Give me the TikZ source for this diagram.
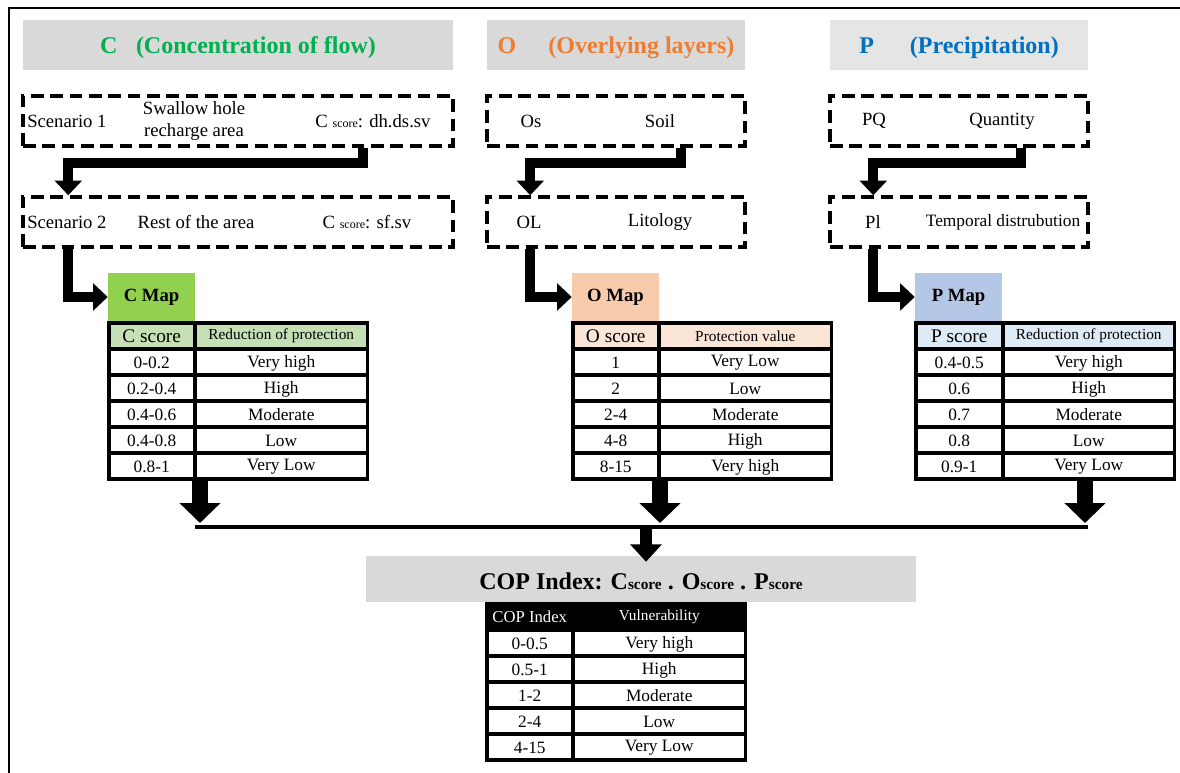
\documentclass[tikz,border=0pt]{standalone}
\usepackage{fontspec}
\setmainfont{Liberation Serif}
\usetikzlibrary{arrows.meta,calc,fit}
\definecolor{hgray}{HTML}{D9D9D9}
\definecolor{hgrayl}{HTML}{E5E5E5}
\definecolor{cgreen}{HTML}{00B050}
\definecolor{corange}{HTML}{ED7D31}
\definecolor{cblue}{HTML}{0070C0}
\definecolor{cmapc}{HTML}{92D050}
\definecolor{chead}{HTML}{C5E0B4}
\definecolor{omapc}{HTML}{F8CBAD}
\definecolor{ohead}{HTML}{FBE5D6}
\definecolor{pmapc}{HTML}{B4C7E7}
\definecolor{phead}{HTML}{DEEBF7}

% #1 name, #2 x0, #3 x1 (divider), #4 x2, #5 y0, #6 header fill, #7 h1, #8 h2, #9 rows
\newcommand\mytab[9]{%
  \node[fit={(#2,#5) (#4,#5+160)}, inner sep=0pt, fill=black] (#1) {};
  \fill[#6] (#2+3.5,#5+3.5) rectangle (#3-2,#5+26);
  \fill[#6] (#3+2,#5+3.5) rectangle (#4-3.5,#5+26);
  \node[tcell] (#1-h1) at ({(#2+3.5+#3-2)/2},#5+15) {#7};
  \node[tcell] (#1-h2) at ({(#3+2+#4-3.5)/2},#5+15) {#8};
  \foreach \a/\b [count=\i] in {#9}{%
    \fill[white] (#2+3.5,#5+26*\i+4) rectangle (#3-2,#5+26+26*\i);
    \fill[white] (#3+2,#5+26*\i+4) rectangle (#4-3.5,#5+26+26*\i);
    \node[tcell] (#1-\i-a) at ({(#2+3.5+#3-2)/2},#5+16+26*\i) {\a};
    \node[tcell] (#1-\i-b) at ({(#3+2+#4-3.5)/2},#5+16+26*\i) {\b};
  }%
}

\begin{document}
\begin{tikzpicture}[x=0.75pt,y=-0.75pt,
  hdr/.style={inner sep=0pt, yshift=-2pt, font=\bfseries\fontsize{18}{21}\selectfont},
  dbox/.style={draw, line width=2.6pt, dash pattern=on 9.5pt off 5pt, inner sep=0pt},
  dtext/.style={inner sep=0pt, font=\fontsize{14}{17}\selectfont, align=center},
  mapbox/.style={inner sep=0pt},
  maptext/.style={inner sep=0pt, font=\bfseries\fontsize{14}{16}\selectfont},
  tcell/.style={inner sep=0pt, font=\fontsize{13}{15}\selectfont},
  elbow/.style={line width=7.5pt, line join=miter, -{Triangle[width=20pt,length=11pt]}},
  bigdown/.style={line width=12pt, -{Triangle[width=30pt,length=15pt]}},
  bigdowns/.style={line width=8.5pt, -{Triangle[width=23pt,length=13pt]}},
  mergeline/.style={line width=3pt},
  frame/.style={line width=1.5pt}
]
\useasboundingbox (0,0) rectangle (1180,773);
\fill[white] (0,0) rectangle (1180,773);
\draw[frame] (9,773) -- (9,8) -- (1180,8);

% headers
\node[fit={(23,20) (453,70)}, inner sep=0pt, fill=hgray] (hc) {};
\node[fit={(487,20) (745,70)}, inner sep=0pt, fill=hgray] (ho) {};
\node[fit={(830,20) (1088,70)}, inner sep=0pt, fill=hgrayl] (hp) {};
\node[hdr, text=cgreen] (hct) at (hc.center) {C\hspace{14pt}(Concentration of flow)};
\node[hdr, text=corange] (hot) at (ho.center) {O\hspace{24pt}(Overlying layers)};
\node[hdr, text=cblue] (hpt) at (hp.center) {P\hspace{27pt}(Precipitation)};

% dashed boxes
\node[dbox, fit={(23,96) (453,146)}] (c1) {};
\node[dbox, fit={(23,197) (453,247)}] (c2) {};
\node[dbox, fit={(487,96) (745,146)}] (o1) {};
\node[dbox, fit={(487,197) (745,247)}] (o2) {};
\node[dbox, fit={(830,96) (1088,146)}] (p1) {};
\node[dbox, fit={(830,197) (1088,247)}] (p2) {};

\node[dtext, anchor=west] (c1a) at (27,121) {Scenario 1};
\node[dtext] (c1b) at (194,121) {Swallow hole\\recharge area};
\node[dtext] (c1c) at (373,121) {C {\fontsize{9}{10}\selectfont score}: dh.ds.sv};
\node[dtext, anchor=west] (c2a) at (27,222) {Scenario 2};
\node[dtext] (c2b) at (196,222) {Rest of the area};
\node[dtext] (c2c) at (367,222) {C {\fontsize{9}{10}\selectfont score}: sf.sv};

\node[dtext] (o1a) at (531,121) {Os};
\node[dtext] (o1b) at (660,121) {Soil};
\node[dtext] (o2a) at (529,222) {OL};
\node[dtext] (o2b) at (660,222) {Litology};

\node[dtext] (p1a) at (874,121) {PQ};
\node[dtext] (p1b) at (1002,121) {Quantity};
\node[dtext] (p2a) at (873,222) {Pl};
\node[dtext, font=\fontsize{13}{15}\selectfont] (p2b) at (1003,222) {Temporal distrubution};

% elbow arrows
\draw[elbow] ($(c1.south west)+(342,0)$) |- ($(c2.north west)+(47,-32)$) -- ($(c2.north west)+(47,0)$);
\draw[elbow] ($(o1.south west)+(196,0)$) |- ($(o2.north west)+(45,-32)$) -- ($(o2.north west)+(45,0)$);
\draw[elbow] ($(p1.south west)+(193,0)$) |- ($(p2.north west)+(45,-32)$) -- ($(p2.north west)+(45,0)$);

% maps
\node[mapbox, fill=cmapc, fit={(108,273) (195,321)}] (cmap) {};
\node[mapbox, fill=omapc, fit={(572,273) (659,321)}] (omap) {};
\node[mapbox, fill=pmapc, fit={(915,273) (1002,321)}] (pmap) {};
\node[maptext] (cmapt) at (cmap.center) {C Map};
\node[maptext] (omapt) at (omap.center) {O Map};
\node[maptext] (pmapt) at (pmap.center) {P Map};

\draw[elbow] ($(c2.south west)+(47,0)$) |- (cmap.west);
\draw[elbow] ($(o2.south west)+(45,0)$) |- (omap.west);
\draw[elbow] ($(p2.south west)+(45,0)$) |- (pmap.west);

% tables
\mytab{ctab}{107}{195}{369}{321}{chead}{{\fontsize{14.5}{16}\selectfont C score}}{{\fontsize{11.5}{13}\selectfont Reduction of protection}}{0-0.2/Very high, 0.2-0.4/High, 0.4-0.6/Moderate, 0.4-0.8/Low, 0.8-1/Very Low}
\mytab{otab}{571}{659}{833}{321}{ohead}{{\fontsize{14.5}{16}\selectfont O score}}{{\fontsize{11.5}{13}\selectfont Protection value}}{1/Very Low, 2/Low, 2-4/Moderate, 4-8/High, 8-15/Very high}
\mytab{ptab}{914}{1003}{1176}{321}{phead}{{\fontsize{14.5}{16}\selectfont P score}}{{\fontsize{11.5}{13}\selectfont Reduction of protection}}{0.4-0.5/Very high, 0.6/High, 0.7/Moderate, 0.8/Low, 0.9-1/Very Low}

% merge arrows
\coordinate (cj) at (200,523);
\coordinate (oj) at (660,523);
\coordinate (pj) at (1085,523);
\draw[bigdown] (ctab.south -| cj) -- (cj);
\draw[bigdown] (otab.south -| oj) -- (oj);
\draw[bigdown] (ptab.south -| pj) -- (pj);
\coordinate (ml) at (195,527);
\coordinate (mr) at (1088,527);
\draw[mergeline] (ml) -- (mr);

% COP
\node[fit={(366,556) (916,602)}, inner sep=0pt, fill=hgray] (cop) {};
\node[hdr, text=black] (copt) at (cop.center) {COP Index: C{\fontsize{11.5}{12}\selectfont score} . O{\fontsize{11.5}{12}\selectfont score} . P{\fontsize{11.5}{12}\selectfont score}};
\coordinate (qj) at (646,528);
\draw[bigdowns, shorten >=-4.5pt] (qj) -- (cop.north -| qj);

\mytab{qtab}{485}{573}{747}{602}{black}{\textcolor{white}{\fontsize{12.5}{14}\selectfont COP Index}}{\textcolor{white}{\fontsize{11.5}{13}\selectfont Vulnerability}}{0-0.5/Very high, 0.5-1/High, 1-2/Moderate, 2-4/Low, 4-15/Very Low}
\end{tikzpicture}
\end{document}
